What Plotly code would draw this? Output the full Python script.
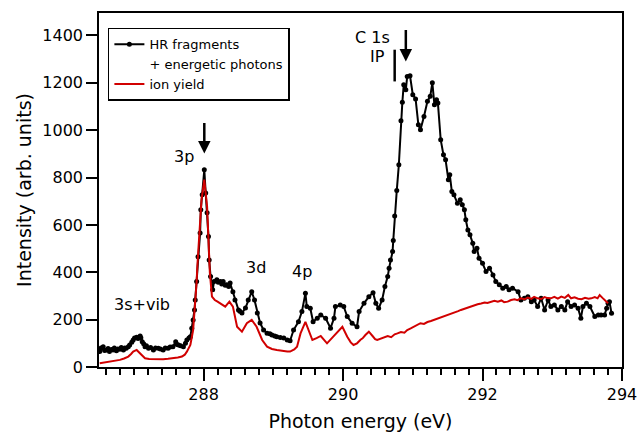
import plotly.graph_objects as go

# ---------------- data ----------------
hr_energy = [
    286.51, 286.53, 286.56, 286.58, 286.61, 286.63, 286.65, 286.68, 286.70, 286.72,
    286.75, 286.77, 286.80, 286.82, 286.85, 286.87, 286.89, 286.92, 286.94, 286.97,
    286.99, 287.01, 287.04, 287.06, 287.09, 287.10, 287.12, 287.14, 287.16, 287.18,
    287.21, 287.24, 287.28, 287.31, 287.35, 287.38, 287.42, 287.45, 287.49, 287.52,
    287.56, 287.60, 287.62, 287.64, 287.67, 287.71, 287.74, 287.76, 287.79, 287.81,
    287.83, 287.85, 287.87, 287.88, 287.90, 287.92, 287.95, 287.96, 287.98, 288.01,
    288.03, 288.05, 288.07, 288.08, 288.10, 288.13, 288.15, 288.19, 288.21, 288.24,
    288.26, 288.28, 288.31, 288.33, 288.36, 288.38, 288.42, 288.45, 288.50, 288.52,
    288.55, 288.60, 288.64, 288.69, 288.73, 288.77, 288.81, 288.86, 288.91, 288.95,
    288.98, 289.02, 289.05, 289.10, 289.15, 289.20, 289.24, 289.29, 289.36, 289.41,
    289.46, 289.48, 289.53, 289.57, 289.63, 289.68, 289.75, 289.82, 289.87, 289.89,
    289.96, 290.01, 290.06, 290.13, 290.20, 290.23, 290.30, 290.37, 290.43, 290.47,
    290.51, 290.56, 290.60, 290.64, 290.66, 290.68, 290.71, 290.72, 290.74, 290.77,
    290.80, 290.83, 290.85, 290.87, 290.90, 290.92, 290.96, 291.00, 291.04, 291.08,
    291.11, 291.16, 291.21, 291.25, 291.28, 291.31, 291.34, 291.36, 291.40, 291.44,
    291.47, 291.51, 291.53, 291.56, 291.59, 291.64, 291.68, 291.71, 291.74, 291.76,
    291.79, 291.82, 291.86, 291.88, 291.92, 291.95, 292.00, 292.05, 292.10, 292.15,
    292.19, 292.24, 292.29, 292.34, 292.38, 292.43, 292.51, 292.55, 292.60, 292.65,
    292.70, 292.74, 292.79, 292.84, 292.89, 292.94, 292.98, 293.03, 293.08, 293.13,
    293.18, 293.22, 293.27, 293.32, 293.37, 293.41, 293.44, 293.49, 293.54, 293.61,
    293.66, 293.70, 293.75, 293.78, 293.80, 293.82, 293.85,
]
hr_intensity = [
    65, 80, 86, 70, 72, 78, 65, 74, 72, 80,
    69, 76, 75, 82, 72, 80, 79, 86, 93, 104,
    114, 122, 126, 120, 131, 124, 107, 98, 86, 90,
    79, 82, 72, 80, 79, 76, 72, 80, 79, 84,
    86, 107, 95, 93, 90, 86, 100, 114, 122, 128,
    164, 199, 241, 283, 361, 466, 566, 664, 727, 833,
    735, 651, 551, 452, 382, 326, 361, 368, 358, 361,
    350, 361, 345, 347, 340, 355, 318, 283, 241, 235,
    228, 249, 283, 318, 283, 228, 186, 156, 143, 140,
    135, 131, 128, 125, 122, 114, 111, 156, 191, 234,
    311, 255, 248, 191, 206, 220, 206, 164, 206, 255,
    262, 255, 213, 185, 170, 234, 269, 297, 314, 269,
    248, 283, 340, 382, 417, 452, 488, 534, 638, 745,
    854, 1040, 1118, 1192, 1171, 1227, 1230, 1150, 1132, 1023,
    1002, 1058, 1122, 1143, 1200, 1108, 1129, 1115, 960, 896,
    875, 791, 812, 741, 727, 692, 706, 685, 664, 622,
    579, 558, 523, 488, 502, 459, 438, 403, 417, 389,
    361, 347, 333, 340, 326, 333, 318, 283, 290, 297,
    276, 283, 255, 290, 241, 283, 255, 262, 241, 255,
    241, 276, 255, 262, 248, 206, 255, 269, 255, 213,
    220, 220, 220, 248, 269, 276, 227,
]

ion_energy = [
    286.51, 286.58, 286.65, 286.72, 286.80, 286.86, 286.92, 286.96, 286.99, 287.04,
    287.09, 287.16, 287.22, 287.28, 287.35, 287.42, 287.49, 287.56, 287.63, 287.69,
    287.73, 287.76, 287.81, 287.85, 287.88, 287.90, 287.91, 287.94, 287.97, 288.01,
    288.05, 288.07, 288.09, 288.12, 288.16, 288.20, 288.24, 288.31, 288.37, 288.42,
    288.48, 288.55, 288.62, 288.69, 288.76, 288.84, 288.91, 288.98, 289.05, 289.12,
    289.20, 289.24, 289.30, 289.34, 289.39, 289.46, 289.51, 289.56, 289.62, 289.68,
    289.77, 289.87, 289.93, 289.99, 290.06, 290.11, 290.15, 290.20, 290.25, 290.28,
    290.32, 290.37, 290.42, 290.46, 290.49, 290.54, 290.59, 290.64, 290.69, 290.74,
    290.78, 290.83, 290.88, 290.92, 290.97, 291.02, 291.06, 291.11, 291.16, 291.21,
    291.26, 291.31, 291.36, 291.40, 291.45, 291.50, 291.55, 291.60, 291.65, 291.69,
    291.74, 291.79, 291.84, 291.88, 291.93, 291.98, 292.03, 292.07, 292.12, 292.17,
    292.22, 292.27, 292.31, 292.36, 292.41, 292.46, 292.50, 292.55, 292.60, 292.65,
    292.70, 292.74, 292.79, 292.84, 292.89, 292.93, 292.98, 293.03, 293.08, 293.13,
    293.18, 293.23, 293.27, 293.32, 293.37, 293.42, 293.47, 293.52, 293.56, 293.61,
    293.65, 293.68, 293.72, 293.75, 293.80,
]
ion_yield = [
    16, 19, 22, 25, 30, 36, 44, 55, 65, 72,
    58, 37, 34, 33, 34, 33, 35, 37, 40, 44,
    52, 65, 93, 156, 260, 360, 424, 565, 706, 791,
    678, 537, 396, 297, 283, 276, 269, 255, 276, 255,
    170, 149, 185, 199, 170, 114, 86, 76, 72, 68,
    65, 65, 74, 86, 142, 191, 156, 114, 122, 131,
    100, 131, 152, 170, 128, 104, 93, 100, 115, 121,
    135, 149, 132, 118, 114, 120, 128, 131, 126, 138,
    142, 148, 145, 156, 163, 170, 176, 185, 182, 190,
    194, 199, 205, 210, 214, 220, 226, 230, 236, 241,
    246, 252, 256, 262, 265, 268, 272, 270, 276, 280,
    276, 281, 274, 276, 283, 286, 282, 290, 286, 293,
    288, 296, 290, 287, 295, 291, 290, 296, 289, 297,
    292, 304, 290, 294, 288, 286, 292, 288, 290, 295,
    290, 304, 292, 283, 269,
]

x_ticks = [288, 290, 292, 294]
y_ticks = [0, 200, 400, 600, 800, 1000, 1200, 1400]

# peak labels: (text, energy, intensity)
peak_labels = [
    ("3s+vib", 287.11, 265),
    ("3p", 287.72, 887),
    ("3d", 288.75, 419),
    ("4p", 289.41, 403),
    ("C 1s", 290.42, 1390),
    ("IP", 290.50, 1312),
]
# arrows: (energy, intensity at tail, intensity at head)
arrows = [
    (288.01, 1037, 902),
    (290.90, 1430, 1290),
]
# ionisation potential bar
ip_bar = (290.74, 1206, 1340)

FONT = "DejaVu Sans"

fig = go.Figure()

fig.add_trace(go.Scatter(
    x=hr_energy, y=hr_intensity, mode="lines+markers",
    name="HR fragments",
    line=dict(color="black", width=2),
    marker=dict(color="black", size=5, symbol="circle"),
))
fig.add_trace(go.Scatter(
    x=[None], y=[None], mode="lines",
    name="+ energetic photons",
    line=dict(color="rgba(0,0,0,0)", width=0),
    hoverinfo="skip",
))
fig.add_trace(go.Scatter(
    x=ion_energy, y=ion_yield, mode="lines",
    name="ion yield",
    line=dict(color="#d10000", width=2),
))

annotations = []
for text, ex, iy in peak_labels:
    annotations.append(dict(
        x=ex, y=iy, xref="x", yref="y", text=text, showarrow=False,
        font=dict(family=FONT, size=16, color="black"),
        xanchor="center", yanchor="middle",
    ))
for ex, tail, head in arrows:
    annotations.append(dict(
        x=ex, y=head, ax=ex, ay=tail, xref="x", yref="y", axref="x", ayref="y",
        text="", showarrow=True, arrowhead=2, arrowsize=1.0, arrowwidth=2.5,
        arrowcolor="black", standoff=0,
    ))
fig.update_layout(annotations=annotations)

fig.add_shape(
    type="line", xref="x", yref="y",
    x0=ip_bar[0], x1=ip_bar[0], y0=ip_bar[1], y1=ip_bar[2],
    line=dict(color="black", width=2.5),
)

fig.update_layout(
    width=639, height=435,
    margin=dict(l=99, r=17, t=13, b=68),
    paper_bgcolor="white", plot_bgcolor="white",
    font=dict(family=FONT, size=16, color="black"),
    showlegend=True,
    legend=dict(
        x=0.017, y=0.958, xanchor="left", yanchor="top",
        bordercolor="black", borderwidth=1.5, bgcolor="white",
        font=dict(family=FONT, size=13, color="black"),
        tracegroupgap=0, itemwidth=30,
    ),
)

fig.update_xaxes(
    range=[286.5, 294], tickvals=x_ticks, ticktext=[str(v) for v in x_ticks],
    ticks="outside", ticklen=12, tickwidth=1.5, tickcolor="black",
    minor=dict(dtick=0.2, tick0=288, ticks="outside", ticklen=6, tickwidth=1.5, tickcolor="black"),
    showline=True, linecolor="black", linewidth=1.5, mirror=True,
    showgrid=False, zeroline=False, automargin=False,
    title=dict(text="Photon energy (eV)", font=dict(family=FONT, size=19), standoff=12),
    tickfont=dict(family=FONT, size=16),
)
fig.update_yaxes(
    range=[0, 1495], tickvals=y_ticks, ticktext=[str(v) for v in y_ticks],
    ticks="outside", ticklen=11, tickwidth=1.5, tickcolor="black",
    showline=True, linecolor="black", linewidth=1.5, mirror=True,
    showgrid=False, zeroline=False, automargin=False,
    title=dict(text="Intensity (arb. units)", font=dict(family=FONT, size=19), standoff=6),
    tickfont=dict(family=FONT, size=16),
)

fig.write_html(
    "out.html",
    config={"displayModeBar": False},
    post_script="document.body.style.margin='0';document.body.style.overflow='hidden';",
)
